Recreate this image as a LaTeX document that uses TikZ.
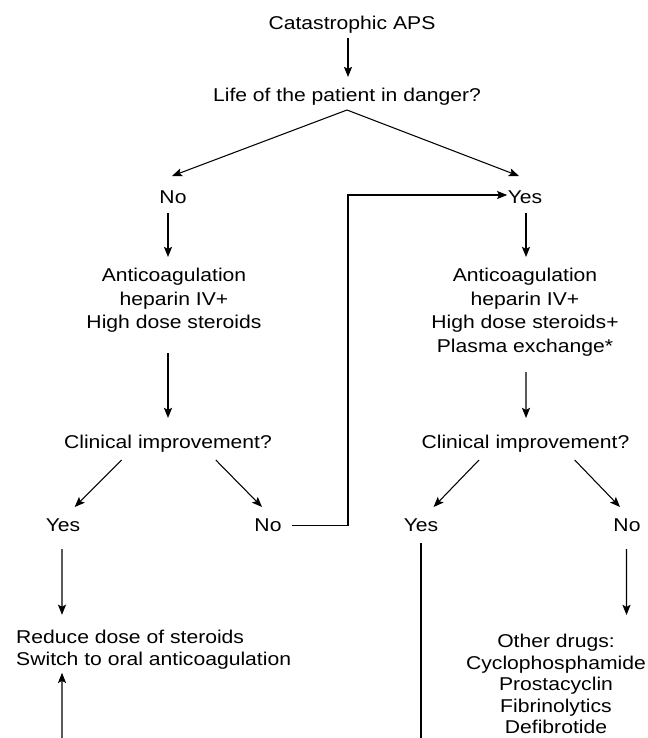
\documentclass[tikz,border=0pt]{standalone}
\usepackage{fontspec}
\setmainfont{Liberation Sans}[FakeStretch=1.14]
\usepackage{tikz}
\usetikzlibrary{
    arrows.meta,
    calc,
    positioning
}
\tikzset{
    txt/.style={inner sep=0pt, anchor=north, align=center, font=\fontsize{10.55pt}{12.2pt}\selectfont},
    wide/.style={font=\fontsize{10.55pt}{13.3pt}\selectfont}
}

\begin{document}
\begin{tikzpicture}[x=0.02cm, y=-0.02cm, line width=0.6pt, >={Stealth[length=5.8pt, width=4.6pt, inset=1.2pt]}]
                        \useasboundingbox (0, 0) rectangle (648, 738);

                        \node[txt] (cat) at (352, 15.5) {Catastrophic APS};
                        \node[txt] (life) at (347, 87.5) {Life of the patient in danger?};

                        \node[txt] (no1) at (173, 190) {No};
                        \node[txt] (yes1) at (525, 190) {Yes};

                        \node[txt, wide] (anti1) at (174, 268) {Anticoagulation\\heparin IV+\\High dose steroids};
                        \node[txt, wide] (anti2) at (525, 268) {Anticoagulation\\heparin IV+\\High dose steroids+\\Plasma exchange*};

                        \node[txt] (clin1) at (168, 435) {Clinical improvement?};
                        \node[txt] (clin2) at (525.5, 435) {Clinical improvement?};

                        \node[txt] (yes2) at (63, 518.5) {Yes};
                        \node[txt] (no2) at (268, 518.5) {No};
                        \node[txt] (yes3) at (421, 518.5) {Yes};
                        \node[txt] (no3) at (627, 518.5) {No};

                        \node[txt, anchor=north west, align=left] (reduce) at (15.7, 629.8) {Reduce dose of steroids\\Switch to oral anticoagulation};
                        \node[txt] (other) at (556, 634) {Other drugs:\\Cyclophosphamide\\Prostacyclin\\Fibrinolytics\\Defibrotide};

                        \coordinate (low1) at (62, 738);
                        \coordinate (low2) at (421, 738);

                        % first decision
                        \draw
                        ($(cat.north)+(-4, 22.5)$) edge[->] ($(life.north)+(1, -10.5)$)
                        ($(life.north)+(0, 22.5)$) edge[->] ($(no1.north)+(-1, -14)$)
                        ($(life.north)+(0, 22.5)$) edge[->] ($(yes1.north)+(-6, -14)$)
                        ($(no1.north)+(-5, 23)$) edge[->] ($(anti1.north)+(-6, -11)$)
                        ($(yes1.north)+(1, 23)$) edge[->] ($(anti2.north)+(1, -11)$)
                        ($(anti1.north)+(-6, 85)$) edge[->] ($(clin1.north)+(0, -17)$)
                        ($(anti2.north)+(1, 104)$) edge[->] ($(clin2.north)+(0.5, -17)$);

                        % second decisions
                        \draw
                        ($(clin1.north)+(-46.4, 25)$) edge[->] ($(yes2.north)+(11.7, -11.5)$)
                        ($(clin1.north)+(47.8, 25)$) edge[->] ($(no2.north)+(-6, -11.5)$)
                        ($(clin2.north)+(-46.5, 25)$) edge[->] ($(yes3.north)+(12.6, -11.5)$)
                        ($(clin2.north)+(49.2, 25)$) edge[->] ($(no3.north)+(-7, -11.5)$)
                        ($(yes2.north)+(-1, 30.5)$) edge[->] ($(reduce.north west)+(46.3, -15)$)
                        ($(no3.north)+(-0.5, 30.5)$) edge[->] ($(other.north)+(70.5, -19)$)
                        (low1) edge[->] ($(reduce.north west)+(46.3, 43)$)
                        ($(yes3.north)+(0, 24.5)$) edge (low2);

                        % no improvement goes back to the yes branch
                        \draw[->] ($(no2.east)+(10, 0)$) -- ($(no2.east -| life.north)+(1, 0)$) |- ($(yes1.west)+(0, -2)$);
                    \end{tikzpicture}
\end{document}
